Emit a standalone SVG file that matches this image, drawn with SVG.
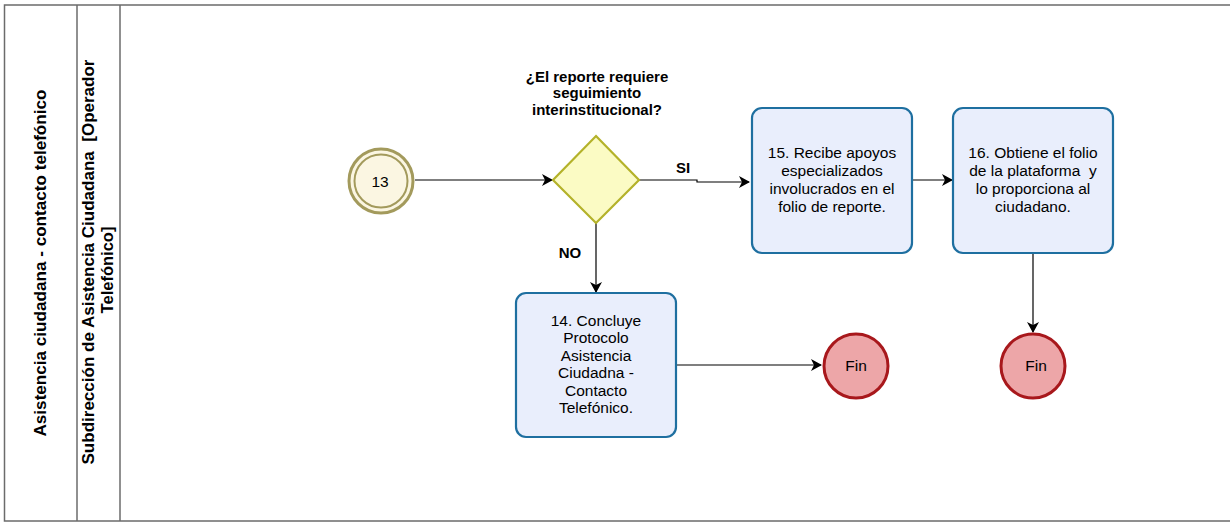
<svg xmlns="http://www.w3.org/2000/svg" width="1230" height="523" viewBox="0 0 1230 523">
  <style>
    .lane { fill: none; stroke: #6b6b6b; stroke-width: 1.5; }
    .lbl { font-family: "Liberation Sans", Arial, sans-serif; font-size: 15px; font-weight: bold; fill: #000; text-anchor: middle; }
    .head { font-family: "Liberation Sans", Arial, sans-serif; font-weight: bold; fill: #000; text-anchor: middle; }
    .txt { font-family: "Liberation Sans", Arial, sans-serif; font-size: 15.5px; fill: #000; text-anchor: middle; }
    .task { fill: #e9eefc; stroke: #1e6fa0; stroke-width: 2.2; }
    .end { fill: #eda6a8; stroke: #a8181c; stroke-width: 3; }
    .flow { fill: none; stroke: #000; stroke-width: 1.2; }
  </style>
  <defs>
    <marker id="arrow" markerWidth="12" markerHeight="12" refX="10" refY="6" orient="auto" markerUnits="userSpaceOnUse">
      <path d="M0,0 L11,6 L0,12 L3,6 Z" fill="#000"/>
    </marker>
  </defs>

  <rect width="1230" height="523" fill="#fff"/>

  <!-- pool and lane frame -->
  <g id="pool">
    <path class="lane" d="M1230,5 H4.5 V521 H1230"/>
    <line class="lane" x1="77" y1="5" x2="77" y2="521"/>
    <line class="lane" x1="120" y1="5" x2="120" y2="521"/>
    <text class="head" font-size="17" transform="translate(46,263) rotate(-90)" textLength="347" lengthAdjust="spacingAndGlyphs">Asistencia ciudadana - contacto telefónico</text>
    <text class="head" font-size="16.5" transform="translate(94,262) rotate(-90)" textLength="405" lengthAdjust="spacingAndGlyphs" xml:space="preserve">Subdirección de Asistencia Ciudadana  [Operador</text>
    <text class="head" font-size="16.5" transform="translate(113,270) rotate(-90)">Telefónico]</text>
  </g>

  <!-- sequence flows -->
  <g id="connectors">
    <line class="flow" x1="415" y1="180" x2="552" y2="180" marker-end="url(#arrow)"/>
    <path class="flow" d="M639,180 H697 V182 H749" marker-end="url(#arrow)"/>
    <line class="flow" x1="596" y1="223" x2="596" y2="292" marker-end="url(#arrow)"/>
    <line class="flow" x1="912" y1="180" x2="952" y2="180" marker-end="url(#arrow)"/>
    <line class="flow" x1="1033" y1="253" x2="1033" y2="332" marker-end="url(#arrow)"/>
    <line class="flow" x1="676" y1="365" x2="821" y2="365" marker-end="url(#arrow)"/>
    <text class="lbl" x="683" y="173">SI</text>
    <text class="lbl" x="570" y="258">NO</text>
  </g>

  <!-- intermediate link event 13 -->
  <g id="event13">
    <circle cx="381" cy="181" r="32" fill="#fbf6e2" stroke="#a39a5c" stroke-width="3"/>
    <circle cx="381" cy="181" r="26.5" fill="none" stroke="#a39a5c" stroke-width="2"/>
    <text class="txt" x="380" y="187">13</text>
  </g>

  <!-- exclusive gateway -->
  <g id="gateway">
    <path d="M596,136 L639,180 L596,223 L553,180 Z" fill="#fbfbc4" stroke="#b4b22a" stroke-width="2.2"/>
    <text class="lbl" x="597" y="82">¿El reporte requiere</text>
    <text class="lbl" x="597" y="98">seguimiento</text>
    <text class="lbl" x="597" y="115">interinstitucional?</text>
  </g>

  <g id="task15">
    <rect class="task" x="752" y="108" width="160" height="145" rx="10"/>
    <text class="txt" x="832" y="158">15. Recibe apoyos</text>
    <text class="txt" x="832" y="176">especializados</text>
    <text class="txt" x="832" y="194">involucrados en el</text>
    <text class="txt" x="832" y="212">folio de reporte.</text>
  </g>

  <g id="task16">
    <rect class="task" x="953" y="108" width="160" height="145" rx="10"/>
    <text class="txt" x="1033" y="158">16. Obtiene el folio</text>
    <text class="txt" x="1033" y="176" xml:space="preserve">de la plataforma  y</text>
    <text class="txt" x="1033" y="194">lo proporciona al</text>
    <text class="txt" x="1033" y="212">ciudadano.</text>
  </g>

  <g id="task14">
    <rect class="task" x="516" y="293" width="160" height="144" rx="10"/>
    <text class="txt" x="596" y="326">14. Concluye</text>
    <text class="txt" x="596" y="343">Protocolo</text>
    <text class="txt" x="596" y="361">Asistencia</text>
    <text class="txt" x="596" y="378">Ciudadna -</text>
    <text class="txt" x="596" y="396">Contacto</text>
    <text class="txt" x="596" y="413">Telefónico.</text>
  </g>

  <g id="end1">
    <circle class="end" cx="856" cy="366" r="32"/>
    <text class="txt" x="856" y="371">Fin</text>
  </g>

  <g id="end2">
    <circle class="end" cx="1033" cy="366" r="32"/>
    <text class="txt" x="1036" y="371">Fin</text>
  </g>
</svg>
